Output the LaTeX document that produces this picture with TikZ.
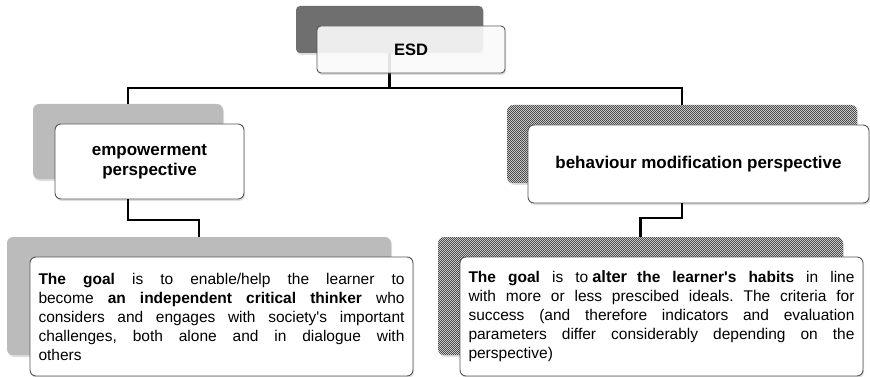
\documentclass[tikz,border=0pt]{standalone}
\usepackage{fontspec}
\setmainfont{Liberation Sans}[Ligatures=TeXOff]
\usetikzlibrary{patterns,patterns.meta,shadows,calc}
\definecolor{shL}{HTML}{BBBBBB}
\definecolor{shD}{HTML}{6F6F6F}
\definecolor{chkLight}{HTML}{DCDCDC}
\definecolor{chkDark}{HTML}{4A4A4A}
\definecolor{frame}{HTML}{555555}
\tikzdeclarepattern{
  name=finecheck,
  type=uncolored,
  bottom left={(0pt,0pt)},
  top right={(2.4pt,2.4pt)},
  tile size={(2.4pt,2.4pt)},
  code={
    \pgfpathrectangle{\pgfpointorigin}{\pgfpoint{1.2pt}{1.2pt}}
    \pgfpathrectangle{\pgfpoint{1.2pt}{1.2pt}}{\pgfpoint{1.2pt}{1.2pt}}
    \pgfusepath{fill}
  }
}
\tikzset{
  conn/.style={line width=2.8pt, black},
  boxbase/.style={rectangle, rounded corners=6pt, inner sep=0pt,
    drop shadow={shadow xshift=1pt, shadow yshift=-2pt, opacity=0.25}},
  shadowgray/.style={boxbase, fill=shL},
  shadowdark/.style={boxbase, fill=shD, rounded corners=4pt},
  shadowcheck/.style={boxbase, preaction={fill=chkLight}, pattern=finecheck, pattern color=chkDark},
  front/.style={boxbase, draw=frame, line width=0.9pt, fill=white},
  titletext/.style={font=\bfseries\fontsize{17}{20}\selectfont, align=center},
  bodytext/.style={font=\frenchspacing\fontsize{15.5}{19}\selectfont, align=justify},
}
\begin{document}
\begin{tikzpicture}[x=1pt, y=-1pt]
\useasboundingbox (0,0) rectangle (870,377);
% shadow boxes
\node[shadowdark, minimum width=187pt, minimum height=47pt] (esdsh) at (389.5,29.5) {};
\node[shadowgray, minimum width=190pt, minimum height=75pt] (empsh) at (128,141.5) {};
\node[shadowcheck, minimum width=350pt, minimum height=78pt] (behsh) at (682,144) {};
\node[shadowgray, minimum width=384pt, minimum height=118pt] (goalLsh) at (199,296) {};
\node[shadowcheck, minimum width=405pt, minimum height=118pt] (goalRsh) at (640.5,296) {};
% connector helper points
\coordinate (hub) at (389.5,88);
\coordinate (bendL) at (128,220);
\coordinate (bendR) at (682,218);
% connectors
\draw[conn] (esdsh.south) -- (hub);
\draw[conn] (empsh.north) |- (hub) -| (behsh.north);
% front boxes
\node[front, rounded corners=4pt, fill opacity=0.88, text opacity=1, minimum width=188pt, minimum height=47pt,
  font=\bfseries\fontsize{16.5}{19}\selectfont] (esd) at (411,49.5) {\raisebox{-3pt}{ESD}};
\node[front, titletext, minimum width=189pt, minimum height=75pt] (emp) at (149.5,161.5)
  {empowerment\\perspective};
\node[front, titletext, minimum width=341pt, minimum height=78pt] (beh) at (698.5,164)
  {behaviour modification perspective};
\draw[conn] (emp.south -| bendL) -- (bendL) -| (goalLsh.north);
\draw[conn] (beh.south -| bendR) -- (bendR) -| (goalRsh.north);
\node[front, bodytext, text width=366pt, minimum width=383pt, minimum height=119pt] (goalL) at (221.5,316.5)
  {\textbf{The goal} is to enable/help the learner to\linebreak
   become \textbf{an independent critical thinker} who\linebreak
   considers and engages with society's important\linebreak
   challenges, both alone and in dialogue with\linebreak
   others};
\node[front, bodytext, text width=386pt, minimum width=403pt, minimum height=119pt] (goalR) at (661.5,316.5)
  {\textbf{The goal} is to\hspace{4pt}{\bfseries\fontsize{16.5}{19}\selectfont alter}\hspace{10pt}\textbf{the learner's habits} in line\linebreak
   with more or less prescibed ideals. The criteria for\linebreak
   success (and therefore indicators and evaluation\linebreak
   parameters differ considerably depending on the\linebreak
   perspective)};
\end{tikzpicture}
\end{document}
